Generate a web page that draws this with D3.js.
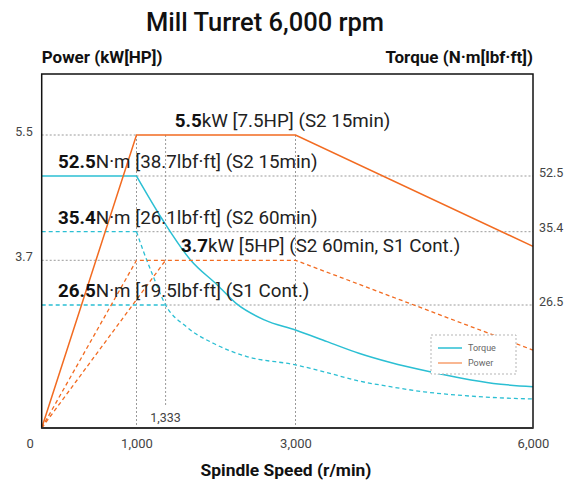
<!DOCTYPE html>
<html>
<head>
<meta charset="utf-8">
<script src="https://cdn.jsdelivr.net/npm/d3@7"></script>
<style>
  html, body { margin: 0; padding: 0; background: #fff; }
  svg { display: block; font-family: Roboto, "Noto Sans", sans-serif; }
</style>
</head>
<body>
<svg id="chart" width="569" height="484"></svg>
<script>
// ---------------- data ----------------
const speedTicks = [0, 1000, 3000, 6000];
const powerTicks = [3.7, 5.5];
const torqueTicks = [26.5, 35.4, 52.5];
const markSpeed = 1333;

// Power (kW)
const powerS2_15min = [[0, 0], [1000, 5.5], [3000, 5.5], [6000, 3.9]];
const powerS2_60min = [[0, 0], [1000, 3.7], [3000, 3.7], [6000, 1.72]];
const powerS1Cont   = [[0, 0], [1333, 3.7]];

// Torque (N·m)
const torqueS2_15min_flat = [[0, 52.5], [1000, 52.5]];
const torqueS2_15min_rpm = [1000, 1300, 1650, 2000, 2250, 2600, 3000, 3400, 3800, 4200, 4700, 5100, 5500, 6000];
const torqueS2_15min_val = [52.5, 39.0, 32.0, 28.9, 26.6, 23.3, 21.1, 18.6, 16.1, 14.1, 12.1, 10.7, 9.6, 8.9];
const torqueS2_60min_flat = [[0, 35.4], [1000, 35.4]];
const torqueS2_60min_rpm = [1000, 1080, 1190, 1333, 1600, 1950, 2375, 3000, 3360, 3780, 4200, 4620, 5040, 5460, 6000];
const torqueS2_60min_val = [35.4, 33.0, 30.0, 26.5, 21.8, 18.2, 15.4, 13.6, 12.1, 10.2, 8.9, 7.8, 7.1, 6.6, 6.25];
const torqueS1Cont_flat = [[0, 26.5], [1333, 26.5]];

const annotations = [
  {axis: "torque", value: 52.5, at: 0,    bold: "52.5", rest: "N·m [38.7lbf·ft] (S2 15min)"},
  {axis: "torque", value: 35.4, at: 0,    bold: "35.4", rest: "N·m [26.1lbf·ft] (S2 60min)"},
  {axis: "torque", value: 26.5, at: 0,    bold: "26.5", rest: "N·m [19.5lbf·ft] (S1 Cont.)"},
  {axis: "power",  value: 5.5,  at: 1450, bold: "5.5",  rest: "kW [7.5HP] (S2 15min)"},
  {axis: "power",  value: 3.7,  at: 1530, bold: "3.7",  rest: "kW [5HP] (S2 60min, S1 Cont.)"}
];

const legendItems = ["Torque", "Power"];

// ---------------- layout ----------------
const svg = d3.select("#chart");
const L = 41.7, R = 533, T = 74, B = 428;
const ORANGE = "#f26b21", TEAL = "#2bbfd3", GRID = "#9a9a9a";

const x = d3.scaleLinear().domain([0, 1000, 1333, 3000, 6000]).range([L, 136.5, 165.6, 295.5, R]);
const yP = d3.scaleLinear().domain([0, 3.7, 5.5]).range([B, 260.3, 135]);
const yT = d3.scaleLinear().domain([0, 26.5, 35.4, 52.5]).range([B, 305, 231.7, 176]);

// Title & axis titles
svg.append("text").attr("x", 265).attr("y", 31).attr("text-anchor", "middle")
  .style("font-size", "25.5px").style("font-weight", 500).attr("fill", "#111")
  .text("Mill Turret 6,000 rpm");
svg.append("text").attr("x", L).attr("y", 63).style("font-size", "17px").style("font-weight", 700)
  .attr("fill", "#111").text("Power (kW[HP])");
svg.append("text").attr("x", R).attr("y", 63).attr("text-anchor", "end").style("font-size", "17px")
  .style("font-weight", 700).attr("fill", "#111").text("Torque (N·m[lbf·ft])");
svg.append("text").attr("x", 286).attr("y", 476).attr("text-anchor", "middle").style("font-size", "17.4px")
  .style("font-weight", 700).attr("fill", "#111").text("Spindle Speed (r/min)");

// ---------------- grid ----------------
const grid = svg.append("g").attr("stroke", GRID).attr("stroke-width", 1).attr("stroke-dasharray", "2,2").attr("fill", "none");
powerTicks.forEach(v => {
  grid.append("line").attr("x1", x(0)).attr("x2", x(1000)).attr("y1", yP(v)).attr("y2", yP(v));
});
torqueTicks.forEach(v => {
  const start = v === 26.5 ? markSpeed : 1000;
  grid.append("line").attr("x1", x(start)).attr("x2", x(6000)).attr("y1", yT(v)).attr("y2", yT(v));
});
[1000, 3000].forEach(s => {
  grid.append("line").attr("x1", x(s)).attr("x2", x(s)).attr("y1", yP(5.5)).attr("y2", B);
});
grid.append("line").attr("x1", x(markSpeed)).attr("x2", x(markSpeed)).attr("y1", yP(5.5)).attr("y2", 407);

// ---------------- lines ----------------
const lineP = d3.line().x(d => x(d[0])).y(d => yP(d[1]));
const lineT = d3.line().x(d => x(d[0])).y(d => yT(d[1]));
const curveT = d3.line().x(d => x(d[0])).y(d => yT(d[1])).curve(d3.curveMonotoneX);
const zip = (a, b) => a.map((v, i) => [v, b[i]]);

const plot = svg.append("g").attr("fill", "none");
plot.append("path").attr("d", lineT(torqueS2_15min_flat)).attr("stroke", TEAL).attr("stroke-width", 1.5);
plot.append("path").attr("d", curveT(zip(torqueS2_15min_rpm, torqueS2_15min_val))).attr("stroke", TEAL).attr("stroke-width", 1.5);
plot.append("path").attr("d", lineT(torqueS2_60min_flat)).attr("stroke", TEAL).attr("stroke-width", 1.3).attr("stroke-dasharray", "4,3");
plot.append("path").attr("d", curveT(zip(torqueS2_60min_rpm, torqueS2_60min_val))).attr("stroke", TEAL).attr("stroke-width", 1.3).attr("stroke-dasharray", "4,3");
plot.append("path").attr("d", lineT(torqueS1Cont_flat)).attr("stroke", TEAL).attr("stroke-width", 1.3).attr("stroke-dasharray", "4,3");
plot.append("path").attr("d", lineP(powerS2_15min)).attr("stroke", ORANGE).attr("stroke-width", 1.5);
plot.append("path").attr("d", lineP(powerS2_60min)).attr("stroke", ORANGE).attr("stroke-width", 1.3).attr("stroke-dasharray", "4,3");
plot.append("path").attr("d", lineP(powerS1Cont)).attr("stroke", ORANGE).attr("stroke-width", 1.3).attr("stroke-dasharray", "4,3");

// ---------------- frame ----------------
svg.append("rect").attr("x", L).attr("y", T).attr("width", R - L).attr("height", B - T)
  .attr("fill", "none").attr("stroke", "#111").attr("stroke-width", 1.5);
svg.append("line").attr("x1", L).attr("x2", R).attr("y1", B).attr("y2", B).attr("stroke", "#333").attr("stroke-width", 2);

// ---------------- axes ----------------
const axL = svg.append("g").attr("transform", `translate(${L},0)`)
  .call(d3.axisLeft(yP).tickValues(powerTicks).tickSize(0).tickPadding(9).tickFormat(d3.format(".1f")));
const axR = svg.append("g").attr("transform", `translate(${R},0)`)
  .call(d3.axisRight(yT).tickValues(torqueTicks).tickSize(0).tickPadding(6).tickFormat(d3.format(".1f")));
const axB = svg.append("g").attr("transform", `translate(0,${B})`)
  .call(d3.axisBottom(x).tickValues(speedTicks).tickSize(0).tickPadding(11).tickFormat(d3.format(",")));
[axL, axR, axB].forEach(a => {
  a.select(".domain").remove();
  a.selectAll("text").style("font-family", "Roboto, sans-serif").style("font-size", "12.5px").attr("fill", "#444");
});
axL.selectAll("text").attr("dy", "0.05em");
axR.selectAll("text").attr("dy", "0em");
axB.selectAll("text").style("font-size", "13px").filter(d => d === 0).attr("x", -12);

svg.append("text").attr("x", x(markSpeed)).attr("y", 422).attr("text-anchor", "middle")
  .style("font-size", "12.5px").attr("fill", "#444").text(d3.format(",")(markSpeed));

// ---------------- annotations ----------------
annotations.forEach(a => {
  const yy = a.axis === "torque" ? yT(a.value) : yP(a.value);
  const t = svg.append("text").attr("x", a.at === 0 ? 58 : x(a.at)).attr("y", yy - 8)
    .style("font-size", "18.8px").attr("fill", "#222");
  t.append("tspan").style("font-weight", 700).attr("fill", "#111").text(a.bold);
  t.append("tspan").text(a.rest);
});

// ---------------- legend ----------------
const lg = svg.append("g").attr("transform", "translate(431,335)");
lg.append("rect").attr("width", 85).attr("height", 39).attr("fill", "#fff")
  .attr("stroke", "#b5b5b5").attr("stroke-dasharray", "2,2");
legendItems.forEach((name, i) => {
  const yy = 13 + i * 15;
  lg.append("line").attr("x1", 7).attr("x2", 31).attr("y1", yy).attr("y2", yy)
    .attr("stroke", i === 0 ? TEAL : ORANGE).attr("stroke-opacity", i === 0 ? 1 : 0.65).attr("stroke-width", 1.5);
  lg.append("text").attr("x", 37).attr("y", yy).attr("dy", "0.35em").style("font-size", "9px")
    .attr("fill", "#666").text(name);
});
</script>
</body>
</html>
